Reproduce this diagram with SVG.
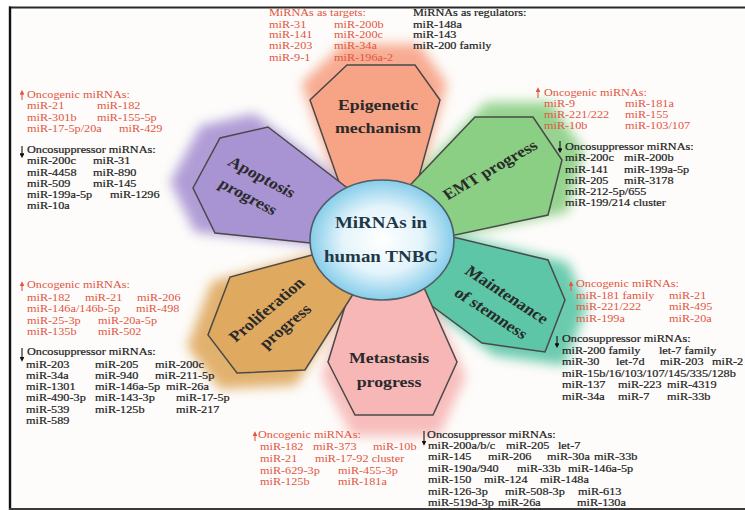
<svg xmlns="http://www.w3.org/2000/svg" width="745" height="510" viewBox="0 0 745 510">
<defs>
<style>
.t{font-family:"Liberation Serif","Times New Roman",serif;font-size:10.2px}
.r{fill:#e2553f}
.k{fill:#1e1e1e;stroke:#1e1e1e;stroke-width:0.2}
.lbl{font-family:"Liberation Serif","Times New Roman",serif;font-weight:bold;font-size:15.5px;fill:#2a2a2a;text-anchor:middle}
.hex{stroke:#4a4a4a;stroke-width:1.5;stroke-linejoin:miter}
.glow{filter:url(#soft);opacity:0.9}
.ar{stroke-width:1.1;fill:none}
</style>
<filter id="soft" x="-30%" y="-30%" width="160%" height="160%"><feGaussianBlur stdDeviation="6"/></filter>
<radialGradient id="cg" cx="50%" cy="50%" r="50%">
<stop offset="0" stop-color="#ffffff"/>
<stop offset="0.55" stop-color="#e4f4fb"/>
<stop offset="1" stop-color="#86cdea"/>
</radialGradient>
<marker id="ahr" viewBox="0 0 6 6" refX="4" refY="3" markerWidth="4.5" markerHeight="4.5" orient="auto"><path d="M0,0 L6,3 L0,6 z" fill="#e2553f"/></marker>
<marker id="ahk" viewBox="0 0 6 6" refX="4" refY="3" markerWidth="4.5" markerHeight="4.5" orient="auto"><path d="M0,0 L6,3 L0,6 z" fill="#111"/></marker>
</defs>
<rect x="0" y="0" width="745" height="510" fill="#fdfcfa"/>

<g id="glows">
<path class="glow" fill="#f7a386" d="M351.8,226 L301.4,83.2 L342.8,44 L419,44 L447,83.2 L410,217.6 Z"/>
<path class="glow" fill="#8acf83" d="M385.4,208.1 L486.2,102.2 L551.1,102.2 L583.6,150.4 L567.9,212 L411.7,245.6 Z"/>
<path class="glow" fill="#5cc6a6" d="M415,225.4 L567.9,262.4 L587,307.2 L564.6,365.4 L494,355.4 L389.8,278.1 Z"/>
<path class="glow" fill="#f6b7b6" d="M412.2,255.7 L466,376.6 L439.1,436 L351.8,436 L321.5,376.6 L358.5,255.7 Z"/>
<path class="glow" fill="#dfa95f" d="M359.6,284.8 L295.8,385.6 L219.6,389 L187.1,346.4 L211.8,281.4 L349.5,244.5 Z"/>
<path class="glow" fill="#a893d3" d="M354.6,249 L195,232.2 L170.3,181.8 L200.6,125.8 L254.3,113.4 L370.2,202.5 Z"/>
</g>

<g id="node-epigenetic">
<path class="hex" fill="#f7a386" d="M355,227.5 L310,100 L347,65 L415,65 L440,100 L407,220 Z"/>
<text class="lbl" transform="translate(378,0) scale(1.15,1)"><tspan x="0" y="110">Epigenetic</tspan><tspan x="0" y="133">mechanism</tspan></text>
</g>
<g id="node-emt">
<path class="hex" fill="#8acf83" d="M385,211.5 L475,117 L533,117 L562,160 L548,215 L408.5,245 Z"/>
<text class="lbl" transform="translate(490,170) scale(1.15,1) rotate(-33.6)" x="0" y="5">EMT progress</text>
</g>
<g id="node-stemness">
<path class="hex" fill="#5cc6a6" d="M411.5,227 L548,260 L565,300 L545,352 L482,343 L389,274 Z"/>
<text class="lbl" transform="translate(499,304) scale(1.15,1) rotate(36.8)"><tspan x="0" y="-6.5">Maintenance</tspan><tspan x="0" y="16.5">of stemness</tspan></text>
</g>
<g id="node-metastasis">
<path class="hex" fill="#f6b7b6" d="M409,254 L457,362 L433,415 L355,415 L328,362 L361,254 Z"/>
<text class="lbl" transform="translate(389,0) scale(1.15,1)"><tspan x="0" y="363">Metastasis</tspan><tspan x="0" y="387">progress</tspan></text>
</g>
<g id="node-proliferation">
<path class="hex" fill="#dfa95f" d="M362,280 L305,370 L237,373 L208,335 L230,277 L353,244 Z"/>
<text class="lbl" transform="translate(276,318) scale(1.15,1) rotate(-44)"><tspan x="0" y="-6.5">Proliferation</tspan><tspan x="0" y="16.5">progress</tspan></text>
</g>
<g id="node-apoptosis">
<path class="hex" fill="#a893d3" d="M357.5,248 L215,233 L193,188 L220,138 L268,127 L371.5,206.5 Z"/>
<text class="lbl" transform="translate(255,187) scale(1.15,1) rotate(31.4)"><tspan x="0" y="-6.5">Apoptosis</tspan><tspan x="0" y="16.5">progress</tspan></text>
</g>
<g id="node-center">
<ellipse cx="382" cy="240" rx="72" ry="60" fill="url(#cg)" stroke="#4f5e66" stroke-width="1.6"/>
<text class="lbl" style="font-size:16.5px;fill:#1f3848" transform="translate(381,0) scale(1.15,1)"><tspan x="0" y="228">MiRNAs in</tspan><tspan x="0" y="262">human TNBC</tspan></text>
</g>

<g id="connectors">
<path class="ar" stroke="#e2553f" marker-end="url(#ahr)" d="M22,100 V91.5"/>
<path class="ar" stroke="#111" marker-end="url(#ahk)" d="M22,146 V156.5"/>
<path class="ar" stroke="#e2553f" marker-end="url(#ahr)" d="M538,98 V89"/>
<path class="ar" stroke="#111" marker-end="url(#ahk)" d="M560,141 V151.5"/>
<path class="ar" stroke="#e2553f" marker-end="url(#ahr)" d="M571,291 V283"/>
<path class="ar" stroke="#111" marker-end="url(#ahk)" d="M557,336 V346.5"/>
<path class="ar" stroke="#e2553f" marker-end="url(#ahr)" d="M22,291 V283"/>
<path class="ar" stroke="#111" marker-end="url(#ahk)" d="M22,348 V360"/>
<path class="ar" stroke="#e2553f" marker-end="url(#ahr)" d="M255,441 V433"/>
<path class="ar" stroke="#111" marker-end="url(#ahk)" d="M424,431 V444"/>
</g>

<g id="list-epigenetic-targets" class="t r" transform="translate(269,0) scale(1.2,1)">
<text x="0" y="16.5">MiRNAs as targets:</text>
<text x="0" y="27.8">miR-31</text><text x="54.2" y="27.8">miR-200b</text>
<text x="0" y="38.5">miR-141</text><text x="54.2" y="38.5">miR-200c</text>
<text x="0" y="49.5">miR-203</text><text x="54.2" y="49.5">miR-34a</text>
<text x="0" y="61">miR-9-1</text><text x="54.2" y="61">miR-196a-2</text>
</g>
<g id="list-epigenetic-regulators" class="t k" transform="translate(413,0) scale(1.2,1)">
<text x="0" y="16.5">MiRNAs as regulators:</text>
<text x="0" y="27.8">miR-148a</text>
<text x="0" y="38.5">miR-143</text>
<text x="0" y="49.5">miR-200 family</text>
</g>

<g id="list-apoptosis-up" class="t r" transform="translate(27,0) scale(1.2,1)">
<text x="0" y="98">Oncogenic miRNAs:</text>
<text x="0" y="109.5">miR-21</text><text x="58.3" y="109.5">miR-182</text>
<text x="0" y="121">miR-301b</text><text x="58.3" y="121">miR-155-5p</text>
<text x="0" y="132.5">miR-17-5p/20a</text><text x="76.7" y="132.5">miR-429</text>
</g>
<g id="list-apoptosis-down" class="t k" transform="translate(27,0) scale(1.2,1)">
<text x="0" y="153">Oncosuppressor miRNAs:</text>
<text x="0" y="164.3">miR-200c</text><text x="55" y="164.3">miR-31</text>
<text x="0" y="175.6">miR-4458</text><text x="55" y="175.6">miR-890</text>
<text x="0" y="186.9">miR-509</text><text x="55" y="186.9">miR-145</text>
<text x="0" y="198.2">miR-199a-5p</text><text x="69.2" y="198.2">miR-1296</text>
<text x="0" y="209.5">miR-10a</text>
</g>

<g id="list-emt-up" class="t r" transform="translate(544,0) scale(1.2,1)">
<text x="0" y="96">Oncogenic miRNAs:</text>
<text x="0" y="107">miR-9</text><text x="67.5" y="107">miR-181a</text>
<text x="0" y="118">miR-221/222</text><text x="67.5" y="118">miR-155</text>
<text x="0" y="129">miR-10b</text><text x="67.5" y="129">miR-103/107</text>
</g>
<g id="list-emt-down" class="t k" transform="translate(565,0) scale(1.2,1)">
<text x="0" y="150">Oncosuppressor miRNAs:</text>
<text x="0" y="161.5">miR-200c</text><text x="49.2" y="161.5">miR-200b</text>
<text x="0" y="172.7">miR-141</text><text x="49.2" y="172.7">miR-199a-5p</text>
<text x="0" y="183.9">miR-205</text><text x="49.2" y="183.9">miR-3178</text>
<text x="0" y="195.1">miR-212-5p/655</text>
<text x="0" y="206.3">miR-199/214 cluster</text>
</g>

<g id="list-stemness-up" class="t r" transform="translate(576,0) scale(1.2,1)">
<text x="0" y="287">Oncogenic miRNAs:</text>
<text x="0" y="299.5">miR-181 family</text><text x="77.5" y="299.5">miR-21</text>
<text x="0" y="310.5">miR-221/222</text><text x="77.5" y="310.5">miR-495</text>
<text x="0" y="322">miR-199a</text><text x="77.5" y="322">miR-20a</text>
</g>
<g id="list-stemness-down" class="t k" transform="translate(562,0) scale(1.2,1)">
<text x="0" y="342.5">Oncosuppressor miRNAs:</text>
<text x="0" y="354">miR-200 family</text><text x="80.8" y="354">let-7 family</text>
<text x="0" y="365.5">miR-30</text><text x="45" y="365.5">let-7d</text><text x="81.7" y="365.5">miR-203</text><text x="125" y="365.5">miR-2</text>
<text x="0" y="377">miR-15b/16/103/107/145/335/128b</text>
<text x="0" y="388.5">miR-137</text><text x="46.7" y="388.5">miR-223</text><text x="87.5" y="388.5">miR-4319</text>
<text x="0" y="400">miR-34a</text><text x="46.7" y="400">miR-7</text><text x="87.5" y="400">miR-33b</text>
</g>

<g id="list-proliferation-up" class="t r" transform="translate(27,0) scale(1.2,1)">
<text x="0" y="288">Oncogenic miRNAs:</text>
<text x="0" y="301">miR-182</text><text x="48.3" y="301">miR-21</text><text x="91.7" y="301">miR-206</text>
<text x="0" y="312.5">miR-146a/146b-5p</text><text x="90.8" y="312.5">miR-498</text>
<text x="0" y="324">miR-25-3p</text><text x="59.2" y="324">miR-20a-5p</text>
<text x="0" y="335">miR-135b</text><text x="59.2" y="335">miR-502</text>
</g>
<g id="list-proliferation-down" class="t k" transform="translate(26,0) scale(1.2,1)">
<text x="0.8" y="355.5">Oncosuppressor miRNAs:</text>
<text x="0" y="367.8">miR-203</text><text x="57.5" y="367.8">miR-205</text><text x="107.5" y="367.8">miR-200c</text>
<text x="0" y="379.3">miR-34a</text><text x="57.5" y="379.3">miR-940</text><text x="107.5" y="379.3">miR-211-5p</text>
<text x="0" y="390.5">miR-1301</text><text x="57.5" y="390.5">miR-146a-5p</text><text x="116.7" y="390.5">miR-26a</text>
<text x="0" y="401.5">miR-490-3p</text><text x="57.5" y="401.5">miR-143-3p</text><text x="125" y="401.5">miR-17-5p</text>
<text x="0" y="412.8">miR-539</text><text x="57.5" y="412.8">miR-125b</text><text x="125" y="412.8">miR-217</text>
<text x="0" y="423.8">miR-589</text>
</g>

<g id="list-metastasis-up" class="t r" transform="translate(260,0) scale(1.2,1)">
<text x="-1.7" y="438">Oncogenic miRNAs:</text>
<text x="0" y="450.5">miR-182</text><text x="44.2" y="450.5">miR-373</text><text x="94.2" y="450.5">miR-10b</text>
<text x="0" y="462">miR-21</text><text x="45.8" y="462">miR-17-92 cluster</text>
<text x="0" y="474">miR-629-3p</text><text x="65" y="474">miR-455-3p</text>
<text x="0" y="485.5">miR-125b</text><text x="65" y="485.5">miR-181a</text>
</g>
<g id="list-metastasis-down" class="t k" transform="translate(428,0) scale(1.2,1)">
<text x="-0.8" y="438">Oncosuppressor miRNAs:</text>
<text x="0" y="449">miR-200a/b/c</text><text x="65" y="449">miR-205</text><text x="108.3" y="449">let-7</text>
<text x="0" y="460.5">miR-145</text><text x="50" y="460.5">miR-206</text><text x="99.2" y="460.5">miR-30a</text><text x="138.3" y="460.5">miR-33b</text>
<text x="0" y="472">miR-190a/940</text><text x="74.2" y="472">miR-33b</text><text x="116.7" y="472">miR-146a-5p</text>
<text x="0" y="483.5">miR-150</text><text x="46.7" y="483.5">miR-124</text><text x="93.3" y="483.5">miR-148a</text>
<text x="0" y="495">miR-126-3p</text><text x="64.2" y="495">miR-508-3p</text><text x="125" y="495">miR-613</text>
<text x="0" y="506.5">miR-519d-3p</text><text x="58.3" y="506.5">miR-26a</text><text x="124.2" y="506.5">miR-130a</text>
</g>

<g id="frame" fill="none">
<rect x="0" y="0" width="745" height="6.5" fill="#ffffff"/>
<rect x="0" y="0" width="8.8" height="510" fill="#ffffff"/>
<line x1="9" y1="7.5" x2="745" y2="7.5" stroke="#2a2a2a" stroke-width="2"/>
<line x1="10" y1="6.5" x2="10" y2="510" stroke="#111" stroke-width="2.4"/>
<line x1="9" y1="509" x2="745" y2="509" stroke="#3a3a3a" stroke-width="2"/>
</g>
</svg>
